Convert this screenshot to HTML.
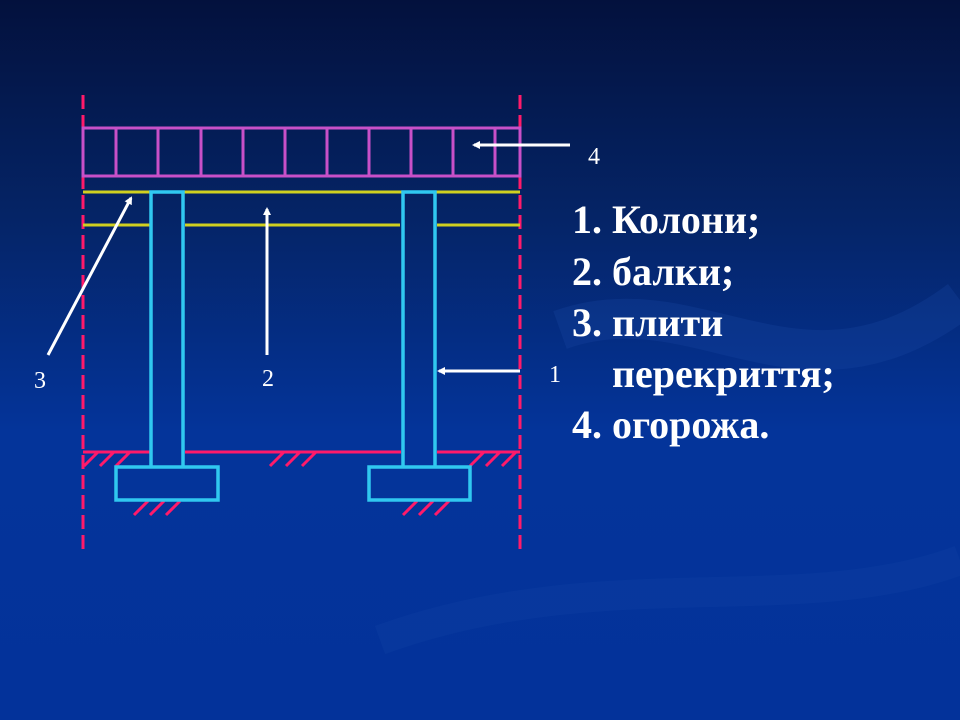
<!DOCTYPE html>
<html><head><meta charset="utf-8"><style>
body{margin:0;width:960px;height:720px;overflow:hidden;background:linear-gradient(180deg,#03113d 0%,#052466 30%,#04349a 60%,#03329a 100%);}
svg{position:absolute;left:0;top:0}
.t{font-family:"Liberation Serif",serif;}
</style></head><body>
<svg width="960" height="720" viewBox="0 0 960 720">
<defs><marker id="a" markerWidth="8" markerHeight="8" refX="6" refY="4" orient="auto" markerUnits="userSpaceOnUse"><path d="M0,0 L8,4 L0,8 Z" fill="#fff"/></marker></defs>
<path d="M560,330 C700,280 800,420 960,300" stroke="#1a4aa8" stroke-width="40" fill="none" opacity="0.25"/>
<path d="M380,640 C600,560 800,620 960,560" stroke="#1a4aa8" stroke-width="30" fill="none" opacity="0.2"/>
<g stroke="#ff1a6a" stroke-width="3" stroke-dasharray="14,6">
<line x1="83" y1="95" x2="83" y2="550"/><line x1="520" y1="95" x2="520" y2="550"/></g>
<g stroke="#c850c8" stroke-width="3" fill="none">
<rect x="83" y="128" width="437" height="48"/>
<path d="M116,128V176M158,128V176M201,128V176M243,128V176M285,128V176M327,128V176M369,128V176M411,128V176M453,128V176M495,128V176"/></g>
<g stroke="#d0d020" stroke-width="3">
<line x1="83" y1="192" x2="520" y2="192"/>
<line x1="83" y1="225" x2="150" y2="225"/><line x1="185" y1="225" x2="400" y2="225"/><line x1="437" y1="225" x2="520" y2="225"/></g>
<g stroke="#ff1a6a" stroke-width="3">
<line x1="83" y1="452" x2="150" y2="452"/><line x1="185" y1="452" x2="401" y2="452"/><line x1="437" y1="452" x2="520" y2="452"/>
<path d="M84,466l14,-14M100,466l14,-14M116,466l14,-14M270,466l14,-14M286,466l14,-14M302,466l14,-14M470,466l14,-14M486,466l14,-14M502,466l14,-14M134,515l14,-14M150,515l14,-14M166,515l14,-14M403,515l14,-14M419,515l14,-14M435,515l14,-14"/></g>
<g stroke="#30c8f0" stroke-width="3.5" fill="none">
<path d="M151,467V192H183V467"/><path d="M403,467V192H435V467"/>
<rect x="116" y="467" width="102" height="33"/><rect x="369" y="467" width="101" height="33"/></g>
<g stroke="#fff" stroke-width="3" marker-end="url(#a)">
<line x1="570" y1="145" x2="474" y2="145"/>
<line x1="48" y1="355" x2="131" y2="198"/>
<line x1="267" y1="355" x2="267" y2="209"/>
<line x1="520" y1="371" x2="439" y2="371"/></g>
<g class="t" fill="#fff" font-size="24">
<text x="588" y="164">4</text><text x="34" y="388">3</text><text x="262" y="386">2</text><text x="549" y="382">1</text></g>
<g class="t" fill="#fff" font-size="40" font-weight="bold">
<text x="572" y="233">1.</text><text x="612" y="233">Колони;</text>
<text x="572" y="285">2.</text><text x="612" y="285">балки;</text>
<text x="572" y="336">3.</text><text x="612" y="336">плити</text>
<text x="612" y="387">перекриття;</text>
<text x="572" y="438">4.</text><text x="612" y="438">огорожа.</text></g>
</svg>
</body></html>
